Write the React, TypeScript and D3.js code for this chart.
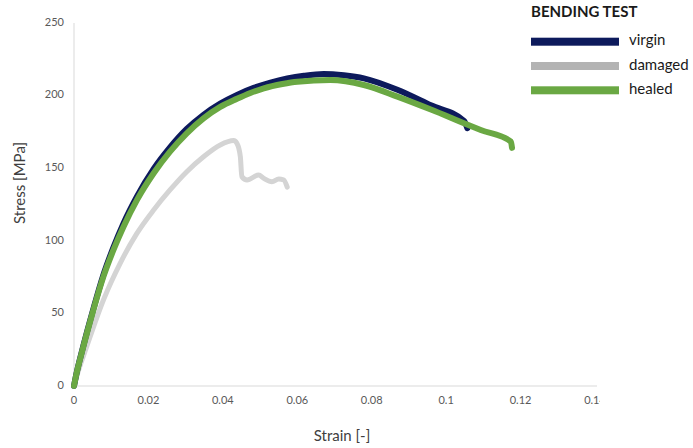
import React from "react";
import * as d3 from "d3";

const xTicks = [0, 0.02, 0.04, 0.06, 0.08, 0.1, 0.12, 0.14];
const xTickLabels = ["0", "0.02", "0.04", "0.06", "0.08", "0.1", "0.12", "0.14"];
const yTicks = [0, 50, 100, 150, 200, 250];

const virginStrain = [0, 0.0003, 0.0025, 0.0052, 0.0079, 0.0106, 0.0133, 0.0169, 0.0214, 0.0258, 0.0303, 0.0348, 0.0393, 0.0438, 0.0483, 0.0528, 0.0573, 0.0618, 0.0671, 0.0725, 0.0779, 0.0869, 0.0959, 0.1048, 0.1057];
const virginStress = [0, 4, 27.5, 53, 76.5, 95.5, 112, 130.4, 149.5, 164.3, 177, 186.8, 194.5, 200.5, 205.3, 209, 211.8, 213.7, 214.9, 214, 211.9, 204, 193.3, 182.6, 177.5];

const damagedStrain = [0, 0.0007, 0.0034, 0.0079, 0.0124, 0.0169, 0.0214, 0.0258, 0.0303, 0.0348, 0.0393, 0.0429, 0.0438, 0.0447, 0.0451, 0.0465, 0.0496, 0.051, 0.0532, 0.055, 0.0563, 0.0573];
const damagedStress = [0, 6.4, 27, 59.2, 84.5, 105.1, 121.2, 135, 147.6, 157.9, 166, 169, 167, 157.9, 144.2, 141.9, 145.3, 143, 140.7, 142.5, 142, 137];

const healedStrain = [0, 0.0003, 0.0025, 0.0052, 0.0079, 0.0106, 0.0133, 0.0169, 0.0214, 0.0258, 0.0303, 0.0348, 0.0393, 0.0438, 0.0474, 0.051, 0.056, 0.06, 0.0689, 0.0779, 0.0869, 0.0959, 0.1048, 0.1093, 0.1174, 0.1177];
const healedStress = [0, 4, 27, 52.3, 75.3, 93.7, 109.7, 128, 146.5, 161.4, 174, 184.3, 192.2, 197.8, 201.8, 205, 208, 209.6, 210.7, 207.3, 199.3, 190.4, 181, 176.3, 168.3, 164];

const seriesNames = ["virgin", "damaged", "healed"];
const lineColors = ["#0d1a5c", "#d4d4d4", "#6aa843"];
const legendColors = ["#0d1a5c", "#b3b3b3", "#6aa843"];

const W = 693;
const H = 448;
const FONT = "Lato, 'Open Sans', sans-serif";

export default function App() {
  const x = d3.scaleLinear().domain([0, 0.14]).range([74, 595]);
  const y = d3.scaleLinear().domain([0, 250]).range([386, 23]);

  const line = d3
    .line<[number, number]>()
    .x((d) => x(d[0]))
    .y((d) => y(d[1]))
    .curve(d3.curveMonotoneX);

  const series = [
    { name: "damaged", pts: damagedStrain.map((s, i) => [s, damagedStress[i]] as [number, number]), color: lineColors[1], w: 5 },
    { name: "virgin", pts: virginStrain.map((s, i) => [s, virginStress[i]] as [number, number]), color: lineColors[0], w: 6 },
    { name: "healed", pts: healedStrain.map((s, i) => [s, healedStress[i]] as [number, number]), color: lineColors[2], w: 6 },
  ];

  return (
    <svg width={W} height={H} style={{ position: "absolute", left: 0, top: 0, background: "#fff" }} fontFamily={FONT}>
      <defs>
        <clipPath id="labelClip">
          <rect x={0} y={0} width={600} height={H} />
        </clipPath>
      </defs>
      <line x1={x(0)} x2={x(0)} y1={y(250)} y2={y(0)} stroke="#d9d9d9" strokeWidth={1} />
      <line x1={x(0)} x2={597} y1={y(0)} y2={y(0)} stroke="#d9d9d9" strokeWidth={1} />

      {yTicks.map((t) => (
        <text key={t} x={64} y={y(t)} textAnchor="end" dominantBaseline="middle" fontSize={11} fill="#595959">
          {t}
        </text>
      ))}
      <g clipPath="url(#labelClip)">
        {xTicks.map((t, i) => (
          <text key={t} x={x(t)} y={401} textAnchor="middle" dominantBaseline="middle" fontSize={11} fill="#595959">
            {xTickLabels[i]}
          </text>
        ))}
      </g>

      <text x={342} y={441} textAnchor="middle" fontSize={15} fill="#404040">
        Strain [-]
      </text>
      <text transform={`translate(25,183) rotate(-90)`} textAnchor="middle" fontSize={15} fill="#404040">
        Stress [MPa]
      </text>

      {series.map((s) => (
        <path
          key={s.name}
          d={line(s.pts) || ""}
          fill="none"
          stroke={s.color}
          strokeWidth={s.w}
          strokeLinecap="round"
          strokeLinejoin="round"
        />
      ))}

      <text x={531} y={17} fontSize={15} fontWeight="bold" fill="#1a1a1a">
        BENDING TEST
      </text>
      {seriesNames.map((n, i) => (
        <g key={n}>
          <rect x={531} y={37.7 + i * 24.3} width={88} height={8} fill={legendColors[i]} />
          <text x={629} y={41.7 + i * 24.3} dominantBaseline="middle" fontSize={15} fill="#1a1a1a">
            {n}
          </text>
        </g>
      ))}
    </svg>
  );
}
